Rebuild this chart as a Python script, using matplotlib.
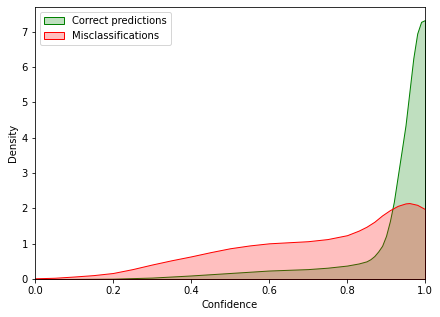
import matplotlib
matplotlib.use("Agg")
import matplotlib.pyplot as plt
from matplotlib.patches import Patch

# Confidence grid and densities
correct_x = [0.0, 0.1, 0.2, 0.3, 0.4, 0.5, 0.6, 0.7, 0.75, 0.8, 0.83, 0.85, 0.86, 0.87,
             0.88, 0.89, 0.90, 0.91, 0.92, 0.93, 0.94, 0.95, 0.96, 0.97, 0.98, 0.99, 1.0]
correct_density = [0.0, 0.003, 0.01, 0.04, 0.10, 0.17, 0.24, 0.28, 0.32, 0.38, 0.44,
                   0.50, 0.56, 0.65, 0.78, 0.94, 1.22, 1.64, 2.18, 2.90, 3.62, 4.35,
                   5.30, 6.25, 6.95, 7.28, 7.33]

mis_x = [0.0, 0.05, 0.1, 0.15, 0.2, 0.25, 0.3, 0.35, 0.4, 0.45, 0.5, 0.55, 0.6,
         0.65, 0.7, 0.75, 0.8, 0.83, 0.85, 0.87, 0.89, 0.91, 0.93, 0.95, 0.96, 0.98, 1.0]
mis_density = [0.02, 0.035, 0.07, 0.11, 0.17, 0.28, 0.41, 0.53, 0.64, 0.76, 0.87,
               0.95, 1.01, 1.04, 1.07, 1.13, 1.24, 1.37, 1.48, 1.62, 1.80, 1.95, 2.07,
               2.14, 2.15, 2.10, 1.98]

labels = ["Correct predictions", "Misclassifications"]
colors = ["green", "red"]

fig = plt.figure(figsize=(440 / 72, 317 / 72), dpi=72)
ax = fig.add_axes([35 / 440, 38 / 317, 390 / 440, 272 / 317])

for xs, ys, c in [(correct_x, correct_density, colors[0]), (mis_x, mis_density, colors[1])]:
    ax.fill_between(xs, 0, ys, facecolor=matplotlib.colors.to_rgba(c, 0.25),
                    edgecolor=c, linewidth=1.0)

ax.set_xlim(0, 1)
ax.set_ylim(0, 7.7)
ax.set_xlabel("Confidence", fontsize=10)
ax.set_ylabel("Density", fontsize=10)
ax.tick_params(labelsize=10)

handles = [Patch(facecolor=matplotlib.colors.to_rgba(c, 0.25), edgecolor=c, label=l)
           for l, c in zip(labels, colors)]
ax.legend(handles=handles, loc="upper left", fontsize=10)

fig.savefig("out.png", dpi=72)
